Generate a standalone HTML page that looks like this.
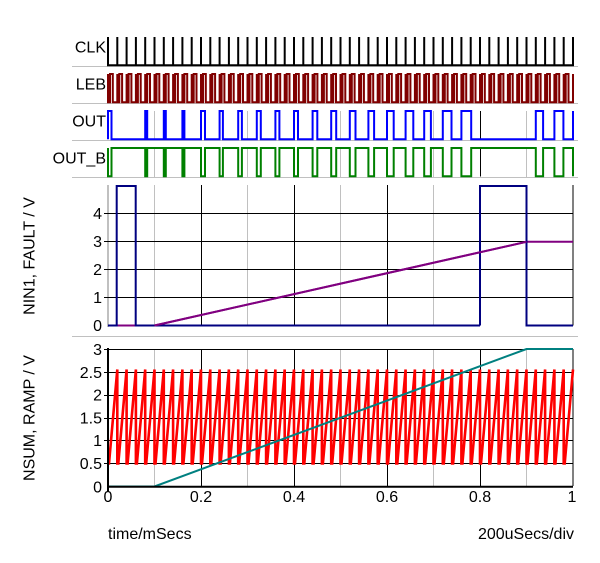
<!DOCTYPE html>
<html><head><meta charset="utf-8"><style>
html,body{margin:0;padding:0;background:#fff;}
svg{display:block;}
text{font-family:"Liberation Sans",Arial,sans-serif;font-size:16px;fill:#000;}
</style></head><body>
<svg width="600" height="563" viewBox="0 0 600 563" xmlns="http://www.w3.org/2000/svg">
<rect width="600" height="563" fill="#fff"/>

<!-- separators -->
<g stroke="#c0c0c0" stroke-width="1">
<line x1="72" y1="66.5" x2="578" y2="66.5"/>
<line x1="72" y1="103.5" x2="578" y2="103.5"/>
<line x1="72" y1="140.5" x2="578" y2="140.5"/>
<line x1="72" y1="177.5" x2="578" y2="177.5"/>
<line x1="72" y1="336.5" x2="578" y2="336.5"/>
</g>

<!-- digital row grid -->
<g stroke="#c0c0c0" stroke-width="1">
<path d="M154.5,37V65M247.5,37V65M340.5,37V65M433.5,37V65M526.5,37V65"/>
<path d="M154.5,74V102M247.5,74V102M340.5,74V102M433.5,74V102M526.5,74V102"/>
<path d="M154.5,111V139.5M247.5,111V139.5M340.5,111V139.5M433.5,111V139.5M526.5,111V139.5"/>
<path d="M154.5,148V177M247.5,148V177M340.5,148V177M433.5,148V177M526.5,148V177"/>
</g>
<g stroke="#000" stroke-width="1">
<path d="M201.5,37V65M294.5,37V65M387.5,37V65M480.5,37V65"/>
<path d="M201.5,74V102M294.5,74V102M387.5,74V102M480.5,74V102"/>
<path d="M201.5,111V139M294.5,111V139M387.5,111V139M480.5,111V139"/>
<path d="M201.5,148V176.5M294.5,148V176.5M387.5,148V176.5M480.5,148V176.5"/>
</g>

<!-- row labels -->
<text x="106" y="52.7" text-anchor="end">CLK</text>
<text x="106" y="89.7" text-anchor="end">LEB</text>
<text x="106" y="126.7" text-anchor="end">OUT</text>
<text x="106" y="163.5" text-anchor="end">OUT_B</text>

<!-- CLK -->
<path fill="none" stroke="#000" stroke-width="2" d="M108,65.2
V37V65.2h9.3V37V65.2h9.3V37V65.2h9.3V37V65.2h9.3V37V65.2h9.3V37V65.2h9.3V37V65.2h9.3V37V65.2h9.3V37V65.2h9.3V37V65.2h9.3
V37V65.2h9.3V37V65.2h9.3V37V65.2h9.3V37V65.2h9.3V37V65.2h9.3V37V65.2h9.3V37V65.2h9.3V37V65.2h9.3V37V65.2h9.3V37V65.2h9.3
V37V65.2h9.3V37V65.2h9.3V37V65.2h9.3V37V65.2h9.3V37V65.2h9.3V37V65.2h9.3V37V65.2h9.3V37V65.2h9.3V37V65.2h9.3V37V65.2h9.3
V37V65.2h9.3V37V65.2h9.3V37V65.2h9.3V37V65.2h9.3V37V65.2h9.3V37V65.2h9.3V37V65.2h9.3V37V65.2h9.3V37V65.2h9.3V37V65.2h9.3
V37V65.2h9.3V37V65.2h9.3V37V65.2h9.3V37V65.2h9.3V37V65.2h9.3V37V65.2h9.3V37V65.2h9.3V37V65.2h9.3V37V65.2h9.3V37V65.2h9.3
V37"/>

<!-- LEB -->
<path fill="none" stroke="#800000" stroke-width="2" d="M108,102.2
V74V102.2h2V74h2.8V102.2h4.5V74V102.2h2V74h2.8V102.2h4.5V74V102.2h2V74h2.8V102.2h4.5V74V102.2h2V74h2.8V102.2h4.5V74V102.2h2V74h2.8V102.2h4.5
V74V102.2h2V74h2.8V102.2h4.5V74V102.2h2V74h2.8V102.2h4.5V74V102.2h2V74h2.8V102.2h4.5V74V102.2h2V74h2.8V102.2h4.5V74V102.2h2V74h2.8V102.2h4.5
V74V102.2h2V74h2.8V102.2h4.5V74V102.2h2V74h2.8V102.2h4.5V74V102.2h2V74h2.8V102.2h4.5V74V102.2h2V74h2.8V102.2h4.5V74V102.2h2V74h2.8V102.2h4.5
V74V102.2h2V74h2.8V102.2h4.5V74V102.2h2V74h2.8V102.2h4.5V74V102.2h2V74h2.8V102.2h4.5V74V102.2h2V74h2.8V102.2h4.5V74V102.2h2V74h2.8V102.2h4.5
V74V102.2h2V74h2.8V102.2h4.5V74V102.2h2V74h2.8V102.2h4.5V74V102.2h2V74h2.8V102.2h4.5V74V102.2h2V74h2.8V102.2h4.5V74V102.2h2V74h2.8V102.2h4.5
V74V102.2h2V74h2.8V102.2h4.5V74V102.2h2V74h2.8V102.2h4.5V74V102.2h2V74h2.8V102.2h4.5V74V102.2h2V74h2.8V102.2h4.5V74V102.2h2V74h2.8V102.2h4.5
V74V102.2h2V74h2.8V102.2h4.5V74V102.2h2V74h2.8V102.2h4.5V74V102.2h2V74h2.8V102.2h4.5V74V102.2h2V74h2.8V102.2h4.5V74V102.2h2V74h2.8V102.2h4.5
V74V102.2h2V74h2.8V102.2h4.5V74V102.2h2V74h2.8V102.2h4.5V74V102.2h2V74h2.8V102.2h4.5V74V102.2h2V74h2.8V102.2h4.5V74V102.2h2V74h2.8V102.2h4.5
V74V102.2h2V74h2.8V102.2h4.5V74V102.2h2V74h2.8V102.2h4.5V74V102.2h2V74h2.8V102.2h4.5V74V102.2h2V74h2.8V102.2h4.5V74V102.2h2V74h2.8V102.2h4.5
V74V102.2h2V74h2.8V102.2h4.5V74V102.2h2V74h2.8V102.2h4.5V74V102.2h2V74h2.8V102.2h4.5V74V102.2h2V74h2.8V102.2h4.5V74V102.2h2V74h2.8V102.2h4.5
V74V102.2"/>

<!-- OUT -->
<path fill="none" stroke="#0000ff" stroke-width="2" d="M108,139.2V111H111.5V139.2H145.2V111H147.2V139.2H163.8V111H165.8V139.2H182.4V111H184.4V139.2H201V111H205V139.2H219.6V111H222.9V139.2H238.2V111H241.9V139.2H256.8V111H260.8V139.2H275.4V111H279.4V139.2H294V111H298V139.2H312.6V111H317.3V139.2H331.2V111H336.2V139.2H349.8V111H355.5V139.2H368.4V111H374.1V139.2H387V111H393.7V139.2H405.6V111H413.3V139.2H424.2V111H430.9V139.2H442.8V111H451.5V139.2H461.4V111H471.2V139.2H535.8V111H543.1V139.2H554.4V111H563.4V139.2H573V111"/>

<!-- OUT_B -->
<path fill="none" stroke="#008000" stroke-width="2" d="M108,148V176.2H111.5V148H145.2V176.2H147.2V148H163.8V176.2H165.8V148H182.4V176.2H184.4V148H201V176.2H205V148H219.6V176.2H222.9V148H238.2V176.2H241.9V148H256.8V176.2H260.8V148H275.4V176.2H279.4V148H294V176.2H298V148H312.6V176.2H317.3V148H331.2V176.2H336.2V148H349.8V176.2H355.5V148H368.4V176.2H374.1V148H387V176.2H393.7V148H405.6V176.2H413.3V148H424.2V176.2H430.9V148H442.8V176.2H451.5V148H461.4V176.2H471.2V148H535.8V176.2H543.1V148H554.4V176.2H563.4V148H573V176.2"/>

<!-- ===== middle panel ===== -->
<g stroke="#c0c0c0" stroke-width="1">
<path d="M154.5,185V325.5M247.5,185V325.5M340.5,185V325.5M433.5,185V325.5M526.5,185V325.5"/>
</g>
<line x1="108" y1="185" x2="108" y2="327" stroke="#c0c0c0" stroke-width="2"/>
<g stroke="#000" stroke-width="1">
<path d="M201.5,185V325.5M294.5,185V325.5M387.5,185V325.5M480.5,185V325.5M573,185V325.5"/>
<path d="M104,297.5H573M104,269.5H573M104,241.5H573M104,213.5H573"/>
</g>
<text x="102" y="331.2" text-anchor="end">0</text>
<text x="102" y="303.2" text-anchor="end">1</text>
<text x="102" y="275.2" text-anchor="end">2</text>
<text x="102" y="247.2" text-anchor="end">3</text>
<text x="102" y="219.2" text-anchor="end">4</text>
<text transform="translate(34.5,256) rotate(-90)" text-anchor="middle">NIN1, FAULT / V</text>

<!-- NIN1 -->
<polyline fill="none" stroke="#800080" stroke-width="2" points="108,325.5 154.5,325.5 526.5,241.8 573,241.8"/>
<!-- FAULT -->
<path fill="none" stroke="#000080" stroke-width="2" d="M108,325.5H116.7V186H135.7V325.5H154.5M480,325.5V186H526.5V325.5H573"/>
<path fill="none" stroke="#000080" stroke-width="2" d="M154.5,325.5H480"/>
<polyline fill="none" stroke="#800080" stroke-width="2" points="154.5,325.5 526.5,241.8"/>

<!-- ===== bottom panel ===== -->
<g stroke="#c0c0c0" stroke-width="1">
<path d="M154.5,349V486M247.5,349V486M340.5,349V486M433.5,349V486M526.5,349V486"/>
</g>
<g stroke="#000" stroke-width="1">
<path d="M201.5,349V486M294.5,349V486M387.5,349V486M480.5,349V486M573,349V486"/>
<path d="M104,463.5H573M104,440.5H573M104,418.5H573M104,395.5H573M104,372.5H573M104,349.5H573"/>
</g>
<text x="102" y="492.5" text-anchor="end">0</text>
<text x="102" y="469.2" text-anchor="end">0.5</text>
<text x="102" y="446.2" text-anchor="end">1</text>
<text x="102" y="423.7" text-anchor="end">1.5</text>
<text x="102" y="400.7" text-anchor="end">2</text>
<text x="102" y="378" text-anchor="end">2.5</text>
<text x="102" y="355" text-anchor="end">3</text>
<text transform="translate(34.5,418) rotate(-90)" text-anchor="middle">NSUM, RAMP / V</text>

<!-- NSUM -->
<path fill="none" stroke="#ff0000" stroke-width="2.6" stroke-linejoin="miter" d="M108,463.5
h1l8.3-94V463.5h1l8.3-94V463.5h1l8.3-94V463.5h1l8.3-94V463.5h1l8.3-94V463.5h1l8.3-94V463.5h1l8.3-94V463.5h1l8.3-94V463.5h1l8.3-94V463.5h1l8.3-94V463.5
h1l8.3-94V463.5h1l8.3-94V463.5h1l8.3-94V463.5h1l8.3-94V463.5h1l8.3-94V463.5h1l8.3-94V463.5h1l8.3-94V463.5h1l8.3-94V463.5h1l8.3-94V463.5h1l8.3-94V463.5
h1l8.3-94V463.5h1l8.3-94V463.5h1l8.3-94V463.5h1l8.3-94V463.5h1l8.3-94V463.5h1l8.3-94V463.5h1l8.3-94V463.5h1l8.3-94V463.5h1l8.3-94V463.5h1l8.3-94V463.5
h1l8.3-94V463.5h1l8.3-94V463.5h1l8.3-94V463.5h1l8.3-94V463.5h1l8.3-94V463.5h1l8.3-94V463.5h1l8.3-94V463.5h1l8.3-94V463.5h1l8.3-94V463.5h1l8.3-94V463.5
h1l8.3-94V463.5h1l8.3-94V463.5h1l8.3-94V463.5h1l8.3-94V463.5h1l8.3-94V463.5h1l8.3-94V463.5h1l8.3-94V463.5h1l8.3-94V463.5h1l8.3-94V463.5h1l8.3-94"/>

<!-- RAMP -->
<polyline fill="none" stroke="#008080" stroke-width="2" points="108,486.5 154.5,486.5 526.5,349 573,349"/>

<!-- axes -->
<line x1="108" y1="348" x2="108" y2="491.5" stroke="#000" stroke-width="2"/>
<line x1="107" y1="486.7" x2="573" y2="486.7" stroke="#000" stroke-width="2"/>

<!-- x labels -->
<text x="108" y="502" text-anchor="middle">0</text>
<text x="201" y="502" text-anchor="middle">0.2</text>
<text x="294" y="502" text-anchor="middle">0.4</text>
<text x="387" y="502" text-anchor="middle">0.6</text>
<text x="480" y="502" text-anchor="middle">0.8</text>
<text x="572" y="502" text-anchor="middle">1</text>
<text x="108" y="539">time/mSecs</text>
<text x="574" y="539" text-anchor="end">200uSecs/div</text>
</svg>
</body></html>
